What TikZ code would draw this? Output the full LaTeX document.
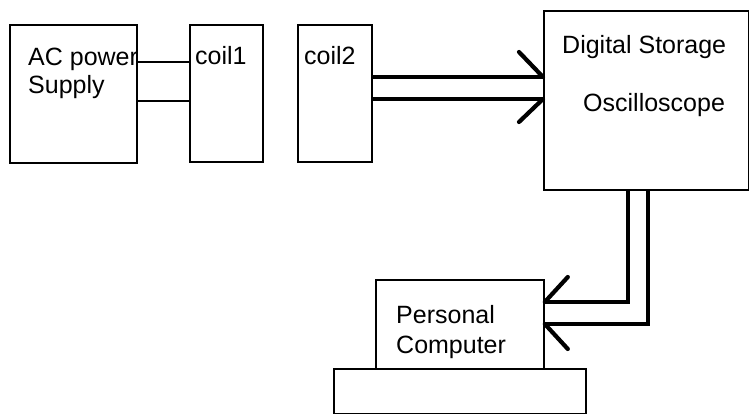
\documentclass[tikz,border=0pt]{standalone}
\usepackage{fontspec}
\setmainfont{Liberation Sans}
\begin{document}
\begin{tikzpicture}[x=1pt,y=-1pt,
  box/.style={draw, line width=1.8pt, rectangle, inner sep=0pt, anchor=north west},
  wire/.style={line width=1.8pt},
  bus/.style={line width=4.2pt},
  barb/.style={line width=4.2pt, line cap=round},
  lbl/.style={anchor=base west, inner sep=0pt, font=\fontsize{25}{29}\selectfont}]
\useasboundingbox (0,0) rectangle (749,414);
% boxes
\node[box, minimum width=127pt, minimum height=138pt] (ac) at (9,24) {};
\node[box, minimum width=73pt, minimum height=137pt] (coila) at (189,24) {};
\node[box, minimum width=74pt, minimum height=137pt] (coilb) at (297,24) {};
\node[box, minimum width=205pt, minimum height=179pt] (osc) at (543,10) {};
\node[box, minimum width=168pt, minimum height=89pt] (pc) at (375,279) {};
\node[box, minimum width=252pt, minimum height=45pt] (pcbase) at (333,368) {};
% labels
\node[lbl] (acA) at (28,66) {AC power};
\node[lbl] (acB) at (28,94) {Supply};
\node[lbl] (coilaT) at (195,65) {coil1};
\node[lbl] (coilbT) at (304,65) {coil2};
\node[lbl] (oscA) at (562,54) {Digital Storage};
\node[lbl] (oscB) at (583,112) {Oscilloscope};
\node[lbl] (pcA) at (396,323) {Personal};
\node[lbl] (pcB) at (396,353) {Computer};
% thin wires
\draw[wire] (ac.east |- 0,62) -- (coila.west |- 0,62);
\draw[wire] (ac.east |- 0,101) -- (coila.west |- 0,101);
% thick signal lines to oscilloscope
\draw[bus] (coilb.east |- 0,77) -- (osc.west |- 0,77);
\draw[barb] (osc.west |- 0,77) -- ++(-24,-25);
\draw[bus] (coilb.east |- 0,99) -- (osc.west |- 0,99);
\draw[barb] (osc.west |- 0,99) -- ++(-24,23);
% oscilloscope to computer
\draw[bus] (osc.south -| 628,0) |- (pc.east |- 0,302);
\draw[barb] (pc.east |- 0,302) -- ++(23,-25);
\draw[bus] (osc.south -| 648,0) |- (pc.east |- 0,324);
\draw[barb] (pc.east |- 0,324) -- ++(23,25);
\end{tikzpicture}
\end{document}
